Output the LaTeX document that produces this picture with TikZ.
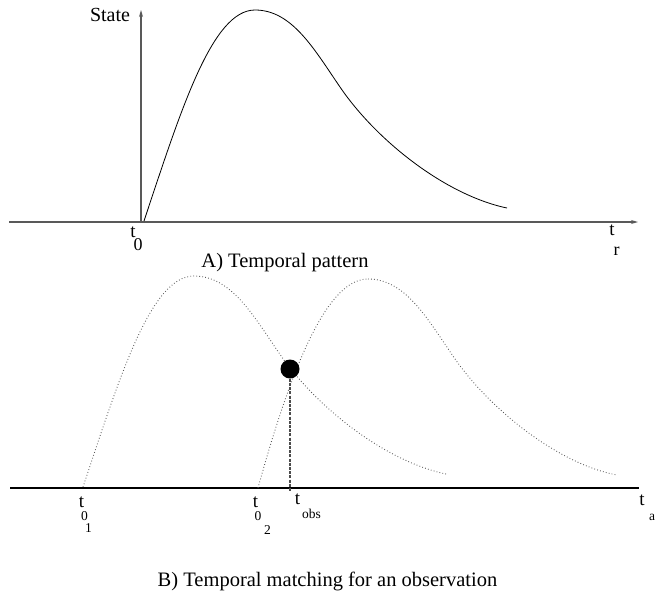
\documentclass[tikz,border=0pt]{standalone}
\usepackage{fontspec}
\setmainfont{Liberation Serif}
\usetikzlibrary{arrows.meta}
\begin{document}
\begin{tikzpicture}[x=1pt,y=-1pt,
  lbl/.style={inner sep=0pt,anchor=center,font=\fontsize{19}{22}\selectfont},
  sublbl/.style={inner sep=0pt,anchor=center,font=\fontsize{18}{21}\selectfont},
  smalllbl/.style={inner sep=0pt,anchor=center,font=\fontsize{13.5}{16}\selectfont},
  caption/.style={inner sep=0pt,anchor=center,font=\fontsize{20.5}{24}\selectfont},
  axisA/.style={line width=1.3pt,black!65,-{Stealth[length=7pt,width=4pt]}},
  axisB/.style={line width=1.2pt,black},
  curveA/.style={line width=0.8pt,black},
  dottedcurve/.style={line width=0.9pt,black!65,dash pattern=on 0.8pt off 2.2pt},
  obsline/.style={line width=2pt,black!70,dash pattern=on 3pt off 1.2pt},
  obsdot/.style={circle,fill=black,inner sep=0pt,minimum size=19pt}]
\useasboundingbox (0,0) rectangle (655,592);

% ---- A) Temporal pattern ----
\coordinate (xAstart) at (9,222);
\coordinate (xAend) at (638,222);
\coordinate (yAbase) at (141,222);
\coordinate (yAtop) at (141,10);
\draw[axisA] (xAstart) -- (xAend);
\draw[axisA] (yAbase) -- (yAtop);
\node[lbl,font=\fontsize{20}{24}\selectfont] (state) at (110,15) {State};

\draw[curveA] (144,221) .. controls (181,110) and (212,10) .. (255,10)
  .. controls (292,10) and (314,49) .. (340,87)
  .. controls (376,140) and (445,195) .. (507,208);

\node[lbl] (t0t) at (133,232) {t};
\node[sublbl] (t0s) at (138,245) {0};
\node[lbl] (trt) at (612,230) {t};
\node[sublbl] (trs) at (616.5,251) {r};
\node[caption] (capA) at (285,263) {A) Temporal pattern};

% ---- B) Temporal matching ----
\coordinate (xBstart) at (10,488);
\coordinate (xBend) at (639,488);
\draw[axisB] (xBstart) -- (xBend);

\begin{scope}[shift={(-61pt,-266pt)}]
\draw[dottedcurve] (144,221) .. controls (181,110) and (212,10) .. (255,10)
  .. controls (292,10) and (314,49) .. (340,87)
  .. controls (376,140) and (445,195) .. (507,208);
\end{scope}
\draw[dottedcurve] (258,488) .. controls (300,335) and (335,279) .. (368,279);
\begin{scope}[shift={(113pt,-269pt)}]
\draw[dottedcurve] (255,10)
  .. controls (292,10) and (314,49) .. (340,87)
  .. controls (376,140) and (445,195) .. (504,206);
\end{scope}

\node[obsdot] (obs) at (290,369) {};
\coordinate (obsfoot) at (290,491);
\draw[obsline] (obs.south) -- (obsfoot);

\node[lbl] (t1t) at (81.5,502) {t};
\node[smalllbl] (t1a) at (84.5,516) {0};
\node[smalllbl] (t1b) at (88.5,528) {1};
\node[lbl] (t2t) at (255.5,502) {t};
\node[smalllbl] (t2a) at (258,516) {0};
\node[smalllbl] (t2b) at (267.5,530) {2};
\node[lbl] (tot) at (297.5,499) {t};
\node[smalllbl] (tos) at (311.5,514) {obs};
\node[lbl] (tat) at (642,500) {t};
\node[smalllbl] (tas) at (652,517) {a};
\node[caption] (capB) at (327.5,581) {B) Temporal matching for an observation};
\end{tikzpicture}
\end{document}
